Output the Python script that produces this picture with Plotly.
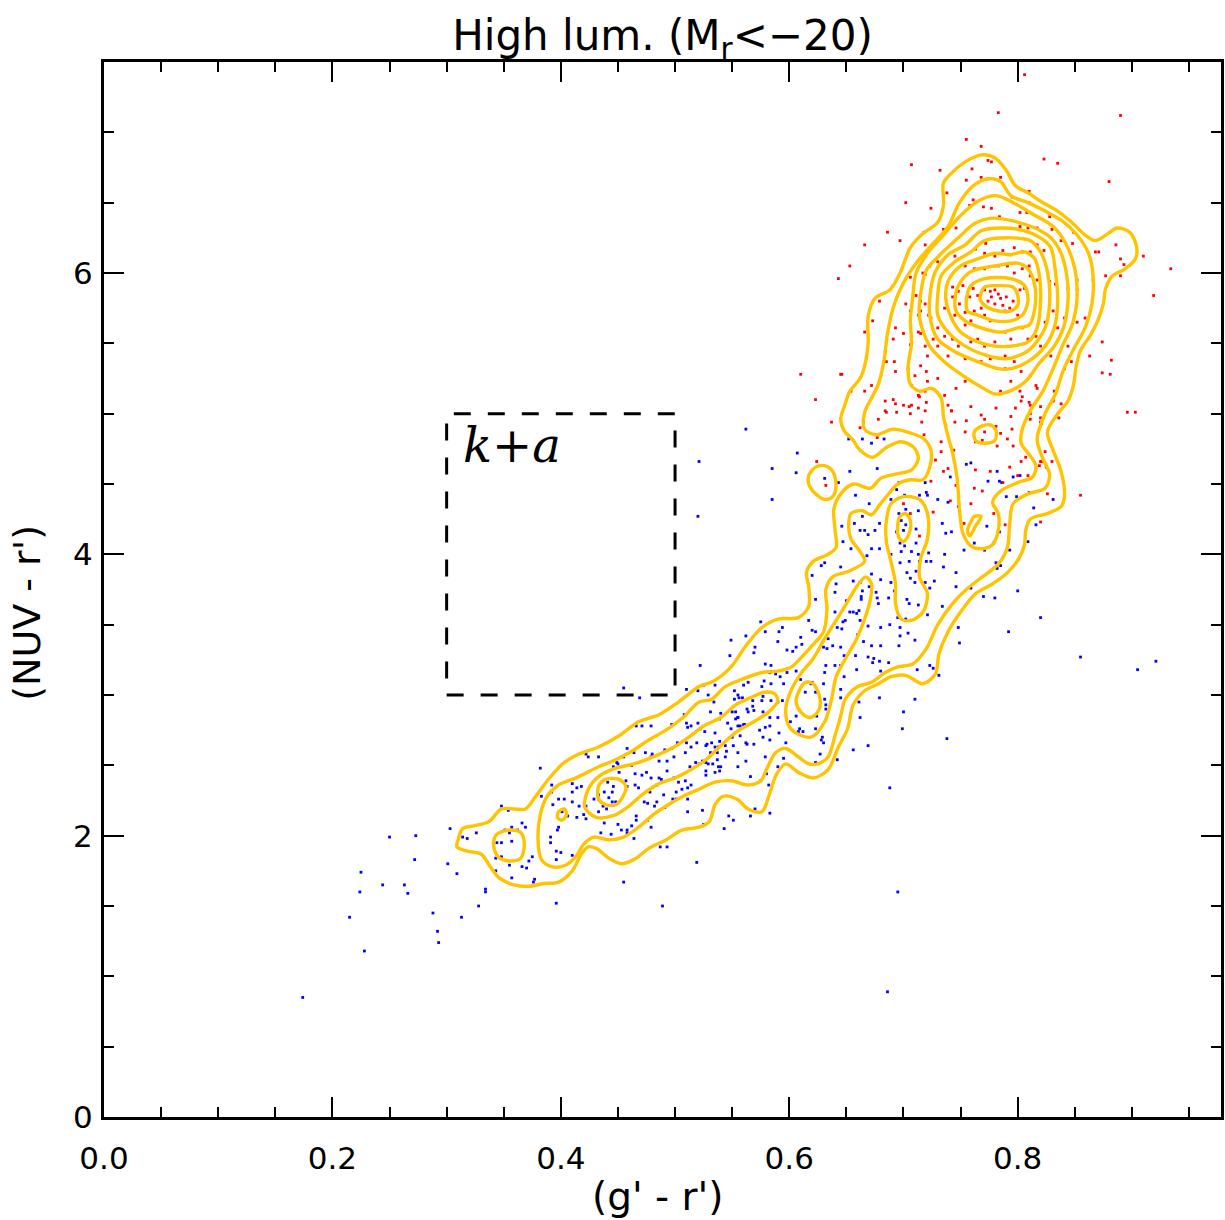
import plotly.graph_objects as go

# ---------------- data ----------------
red_points = [
    (0.806, 7.41), (0.783, 7.14), (0.890, 7.12),
    (0.755, 6.95), (0.768, 6.90), (0.707, 6.77), (0.732, 6.73), (0.774, 6.80), (0.777, 6.79),
    (0.823, 6.81), (0.835, 6.78), (0.880, 6.65), (0.760, 6.74), (0.755, 6.66), (0.768, 6.68),
    (0.785, 6.68), (0.774, 6.67), (0.738, 6.57), (0.761, 6.52), (0.702, 6.50), (0.724, 6.46),
    (0.758, 6.48), (0.770, 6.47), (0.810, 6.58), (0.795, 6.54), (0.810, 6.50), (0.802, 6.43),
    (0.777, 6.46), (0.784, 6.40), (0.828, 6.40), (0.808, 6.43), (0.746, 6.32), (0.735, 6.31),
    (0.718, 6.29), (0.686, 6.29), (0.666, 6.20), (0.653, 6.05), (0.643, 5.96), (0.697, 6.23),
    (0.719, 6.20), (0.802, 6.33), (0.809, 6.32), (0.817, 6.32), (0.830, 6.31), (0.849, 6.29),
    (0.838, 6.23), (0.848, 6.21), (0.868, 6.15), (0.871, 6.15), (0.886, 6.20), (0.890, 6.10),
    (0.893, 6.06), (0.910, 6.12), (0.934, 6.03), (0.877, 5.98), (0.890, 5.98), (0.866, 5.95),
    (0.852, 5.95), (0.852, 5.88), (0.919, 5.84), (0.771, 6.14), (0.780, 6.12), (0.794, 6.13),
    (0.804, 6.15), (0.811, 6.15), (0.772, 6.21), (0.763, 6.17), (0.787, 6.16), (0.797, 6.18),
    (0.817, 6.20), (0.823, 6.16), (0.745, 6.12), (0.723, 6.05), (0.719, 5.99), (0.706, 5.97),
    (0.730, 6.08), (0.754, 6.05), (0.762, 6.03), (0.771, 6.03), (0.783, 6.05), (0.791, 6.05),
    (0.804, 6.03), (0.810, 6.05), (0.797, 6.00), (0.811, 5.98), (0.817, 5.95), (0.828, 5.94),
    (0.833, 5.92), (0.844, 5.89), (0.743, 5.90), (0.748, 5.87), (0.752, 5.91), (0.771, 5.88),
    (0.776, 5.87), (0.780, 5.88), (0.783, 5.85), (0.777, 5.83), (0.785, 5.82), (0.790, 5.83),
    (0.774, 5.80), (0.780, 5.78), (0.787, 5.77), (0.793, 5.75), (0.796, 5.80), (0.802, 5.88),
    (0.806, 5.89), (0.768, 5.75), (0.762, 5.73), (0.754, 5.72), (0.749, 5.78), (0.743, 5.83),
    (0.758, 5.83), (0.765, 5.84), (0.761, 5.89), (0.789, 5.73), (0.800, 5.70), (0.771, 5.70),
    (0.776, 5.66), (0.759, 5.66), (0.754, 5.63), (0.745, 5.70), (0.736, 5.75), (0.724, 5.68),
    (0.713, 5.70), (0.706, 5.73), (0.715, 5.80), (0.711, 5.84), (0.693, 5.61), (0.691, 5.53),
    (0.685, 5.37), (0.684, 5.44), (0.673, 5.66), (0.666, 5.58), (0.679, 5.80), (0.646, 5.28),
    (0.654, 5.16), (0.666, 5.16), (0.672, 5.20), (0.665, 4.94), (0.678, 4.96), (0.684, 5.09),
    (0.694, 5.01), (0.700, 5.06), (0.704, 5.32), (0.710, 5.27), (0.715, 5.34), (0.720, 5.30),
    (0.721, 5.41), (0.713, 5.58), (0.719, 5.48), (0.730, 5.48), (0.736, 5.55), (0.730, 5.61),
    (0.743, 5.53), (0.748, 5.48), (0.739, 5.41), (0.754, 5.39), (0.759, 5.51), (0.765, 5.53),
    (0.771, 5.48), (0.780, 5.51), (0.789, 5.58), (0.794, 5.53), (0.804, 5.61), (0.809, 5.53),
    (0.816, 5.55), (0.820, 5.48), (0.824, 5.65), (0.831, 5.73), (0.835, 5.61), (0.841, 5.68),
    (0.829, 5.41), (0.841, 5.32), (0.847, 5.37), (0.852, 5.65), (0.859, 5.68), (0.844, 5.48),
    (0.768, 5.37), (0.776, 5.39), (0.789, 5.41), (0.789, 5.32), (0.797, 5.37), (0.803, 5.30),
    (0.811, 5.27), (0.794, 5.23), (0.785, 5.16), (0.802, 5.16), (0.804, 5.12), (0.816, 5.20),
    (0.817, 5.18), (0.832, 5.16), (0.831, 5.09), (0.820, 5.05), (0.794, 4.98), (0.811, 4.96),
    (0.820, 4.94), (0.874, 5.51), (0.882, 5.38), (0.874, 5.29), (0.881, 5.28), (0.863, 5.41),
    (0.896, 5.01), (0.903, 5.01), (0.754, 5.23), (0.746, 5.18), (0.736, 5.13), (0.759, 5.05),
    (0.742, 5.02), (0.730, 5.25), (0.719, 5.16), (0.713, 5.13),
    (0.610, 5.28), (0.623, 5.10), (0.637, 4.94), (0.645, 5.28), (0.624, 4.66), (0.662, 4.90),
    (0.677, 4.83), (0.691, 5.10), (0.685, 5.01), (0.693, 5.07), (0.705, 5.05), (0.714, 5.12),
    (0.716, 4.94), (0.718, 4.85), (0.719, 5.02), (0.720, 5.08), (0.692, 5.37), (0.693, 5.30),
    (0.721, 5.23), (0.707, 5.20), (0.700, 5.57), (0.702, 5.78), (0.706, 5.49), (0.715, 5.57),
    (0.726, 5.53), (0.717, 6.00), (0.719, 5.78), (0.715, 5.73), (0.722, 5.70),
    (0.684, 5.02), (0.706, 5.00), (0.707, 5.06), (0.713, 5.04), (0.739, 5.06), (0.742, 5.02),
    (0.737, 4.92), (0.745, 4.94), (0.755, 4.95), (0.754, 4.87), (0.768, 4.99), (0.771, 4.96),
    (0.781, 4.91), (0.785, 4.86), (0.771, 4.87), (0.763, 4.80), (0.769, 4.81), (0.791, 4.82),
    (0.795, 4.89), (0.796, 4.77), (0.782, 4.77), (0.781, 5.04), (0.798, 5.04), (0.803, 5.09),
    (0.811, 5.00), (0.820, 4.97), (0.811, 5.06), (0.831, 5.10), (0.836, 4.97), (0.838, 5.07),
    (0.733, 4.73), (0.728, 4.67), (0.744, 4.74), (0.735, 4.59), (0.739, 4.61), (0.724, 4.52),
    (0.746, 4.49), (0.762, 4.47), (0.769, 4.45), (0.776, 4.59), (0.763, 4.60), (0.741, 4.38),
    (0.759, 4.36), (0.779, 4.29), (0.789, 4.21), (0.753, 4.22), (0.726, 4.30), (0.714, 4.13),
    (0.706, 4.29), (0.700, 4.36), (0.632, 4.49), (0.793, 4.62), (0.800, 4.56), (0.809, 4.56),
    (0.803, 4.66), (0.819, 4.63), (0.821, 4.66), (0.824, 4.73), (0.830, 4.66), (0.825, 4.62),
    (0.821, 4.93), (0.855, 4.42), (0.826, 4.43), (0.810, 4.44), (0.820, 4.23), (0.810, 5.08),
    (0.733, 4.80), (0.807, 4.69), (0.820, 4.66), (0.787, 4.51),
]

blue_points = [
    (0.607, 4.72), (0.585, 4.61), (0.606, 4.58), (0.652, 4.82), (0.664, 4.82), (0.672, 4.79),
    (0.683, 4.82), (0.653, 4.59), (0.677, 4.61), (0.631, 4.54),
    (0.562, 4.89), (0.521, 4.66), (0.520, 4.27), (0.585, 4.39), (0.643, 4.51), (0.755, 4.64),
    (0.759, 4.65), (0.696, 4.51), (0.694, 4.46), (0.719, 4.51), (0.720, 4.44), (0.721, 4.42),
    (0.714, 4.42), (0.741, 4.55), (0.774, 4.52), (0.782, 4.59), (0.786, 4.51), (0.790, 4.41),
    (0.799, 4.41), (0.814, 4.33), (0.831, 4.39), (0.816, 4.21), (0.658, 4.42), (0.689, 4.39),
    (0.670, 4.36), (0.701, 4.42), (0.702, 4.32), (0.713, 4.31), (0.730, 4.39), (0.739, 4.37),
    (0.748, 4.34), (0.664, 4.27), (0.657, 4.22), (0.646, 4.20), (0.662, 4.17), (0.666, 4.17),
    (0.669, 4.14), (0.675, 4.17), (0.679, 4.22), (0.696, 4.29), (0.698, 4.24), (0.702, 4.21),
    (0.700, 4.17), (0.694, 4.16), (0.711, 4.18), (0.734, 4.22), (0.737, 4.15), (0.742, 4.16),
    (0.773, 4.20), (0.784, 4.16), (0.779, 4.08), (0.762, 4.08), (0.771, 4.03), (0.753, 4.03),
    (0.793, 4.03), (0.809, 4.09), (0.647, 4.09), (0.654, 4.04), (0.672, 4.04), (0.679, 4.04),
    (0.697, 4.08), (0.701, 4.06), (0.698, 4.02), (0.707, 4.02), (0.711, 4.08), (0.713, 4.00),
    (0.722, 4.01), (0.736, 4.00), (0.668, 3.99), (0.689, 4.00), (0.697, 3.94), (0.705, 3.95),
    (0.714, 3.95), (0.720, 3.95), (0.724, 3.95), (0.735, 3.91), (0.746, 3.87), (0.781, 3.94),
    (0.782, 3.90), (0.645, 3.91), (0.628, 3.92), (0.631, 3.94), (0.620, 3.85), (0.672, 3.86),
    (0.680, 3.82), (0.689, 3.80), (0.703, 3.87), (0.711, 3.88), (0.706, 3.83), (0.710, 3.80),
    (0.719, 3.80), (0.727, 3.81), (0.723, 3.76), (0.641, 3.79), (0.662, 3.80), (0.670, 3.77),
    (0.656, 3.81), (0.664, 3.74), (0.692, 3.74), (0.676, 3.73), (0.640, 3.73), (0.650, 3.67),
    (0.663, 3.70), (0.663, 3.68), (0.677, 3.69), (0.678, 3.65), (0.687, 3.69), (0.703, 3.68),
    (0.705, 3.65), (0.713, 3.64), (0.721, 3.57), (0.734, 3.63), (0.623, 3.68), (0.702, 3.54),
    (0.695, 3.55), (0.688, 3.50), (0.680, 3.48), (0.697, 3.48), (0.697, 3.42), (0.696, 3.35),
    (0.710, 3.39), (0.704, 3.44), (0.672, 3.35), (0.680, 3.35), (0.662, 3.53), (0.669, 3.49),
    (0.661, 3.60), (0.659, 3.58), (0.656, 3.59), (0.649, 3.53), (0.653, 3.59), (0.647, 3.52),
    (0.646, 3.47), (0.640, 3.59), (0.642, 3.48), (0.634, 3.40), (0.630, 3.34), (0.633, 3.33),
    (0.623, 3.45), (0.620, 3.46), (0.617, 3.53), (0.610, 3.41), (0.611, 3.36), (0.606, 3.34),
    (0.598, 3.32), (0.603, 3.31), (0.598, 3.16), (0.592, 3.13), (0.588, 3.15), (0.590, 3.38),
    (0.594, 3.48), (0.591, 3.45), (0.579, 3.45), (0.575, 3.52), (0.570, 3.34), (0.569, 3.30),
    (0.562, 3.42), (0.549, 3.39), (0.548, 3.28), (0.579, 3.22), (0.584, 3.21), (0.583, 3.16),
    (0.595, 3.08), (0.584, 3.08), (0.578, 3.10), (0.576, 3.06), (0.577, 2.99), (0.564, 3.09),
    (0.560, 3.07), (0.552, 3.03), (0.555, 3.00), (0.529, 3.00), (0.525, 3.07), (0.522, 3.21),
    (0.606, 3.17), (0.610, 3.11), (0.614, 3.02), (0.623, 3.02), (0.619, 3.08), (0.620, 3.09),
    (0.631, 3.16), (0.630, 3.08), (0.632, 3.21), (0.638, 3.35), (0.640, 3.21), (0.645, 3.34),
    (0.645, 3.21), (0.648, 3.28), (0.658, 3.28), (0.659, 3.18), (0.665, 3.38), (0.660, 3.43),
    (0.669, 3.27), (0.674, 3.26), (0.679, 3.24), (0.673, 3.23), (0.680, 3.17), (0.687, 3.23),
    (0.679, 2.98), (0.712, 3.18), (0.723, 3.21), (0.726, 3.19), (0.731, 3.14), (0.749, 3.37),
    (0.748, 3.48), (0.770, 3.70), (0.780, 3.69), (0.792, 3.45), (0.820, 3.55), (0.855, 3.27),
    (0.759, 3.76), (0.746, 3.77), (0.796, 4.55), (0.802, 4.56), (0.784, 4.52), (0.785, 3.92),
    (0.800, 3.74), (0.921, 3.24), (0.905, 3.18),
    (0.552, 2.97), (0.556, 2.98), (0.559, 2.98), (0.568, 2.96), (0.576, 2.96), (0.584, 2.96),
    (0.590, 2.95), (0.594, 2.96), (0.534, 2.95), (0.531, 2.88), (0.540, 2.87), (0.539, 2.83),
    (0.550, 2.88), (0.553, 2.88), (0.553, 2.83), (0.555, 2.84), (0.564, 2.88), (0.569, 2.89),
    (0.568, 2.92), (0.563, 2.90), (0.583, 2.84), (0.577, 2.88), (0.546, 2.80), (0.555, 2.78),
    (0.560, 2.79), (0.522, 2.76), (0.526, 2.74), (0.535, 2.73), (0.528, 2.65), (0.535, 2.63),
    (0.544, 2.64), (0.539, 2.67), (0.550, 2.70), (0.557, 2.71), (0.563, 2.65), (0.569, 2.65),
    (0.531, 2.59), (0.555, 2.59), (0.524, 2.53), (0.521, 2.51), (0.527, 2.52), (0.533, 2.51),
    (0.538, 2.49), (0.539, 2.46), (0.527, 2.43), (0.566, 2.42), (0.555, 2.49), (0.562, 2.53),
    (0.579, 2.56), (0.582, 2.36), (0.580, 2.44), (0.575, 2.39), (0.590, 2.49), (0.595, 2.55),
    (0.597, 2.66), (0.591, 2.73), (0.583, 2.68), (0.577, 2.70), (0.574, 2.75), (0.579, 2.77),
    (0.583, 2.78), (0.590, 2.84), (0.601, 2.81), (0.606, 2.85), (0.608, 2.74), (0.612, 2.74),
    (0.609, 2.76), (0.623, 2.76), (0.624, 2.85), (0.631, 2.97), (0.632, 2.93), (0.632, 2.90),
    (0.629, 2.70), (0.630, 2.66), (0.628, 2.68), (0.627, 2.58), (0.623, 2.52), (0.642, 2.54),
    (0.656, 2.61), (0.669, 2.64), (0.662, 2.84), (0.661, 2.95), (0.699, 2.76), (0.700, 2.88),
    (0.710, 2.97), (0.738, 2.69), (0.688, 2.34), (0.695, 1.60), (0.686, 0.89), (0.566, 2.14),
    (0.551, 2.11), (0.547, 2.14), (0.543, 2.05), (0.583, 2.16), (0.570, 2.19), (0.524, 2.18),
    (0.525, 2.08), (0.645, 2.98), (0.645, 3.04), (0.648, 3.13),
    (0.455, 3.05), (0.469, 2.98), (0.510, 3.04), (0.520, 3.03), (0.466, 2.78), (0.471, 2.78),
    (0.479, 2.78), (0.497, 2.79), (0.508, 2.86), (0.510, 2.80), (0.514, 2.78), (0.520, 2.80),
    (0.535, 3.07), (0.511, 2.77), (0.491, 2.61), (0.497, 2.62), (0.502, 2.66), (0.510, 2.66),
    (0.514, 2.63), (0.519, 2.66), (0.527, 2.64), (0.532, 2.66), (0.538, 2.63), (0.537, 2.59),
    (0.545, 2.60), (0.551, 2.64), (0.549, 2.76), (0.557, 2.78), (0.555, 2.84), (0.561, 2.79),
    (0.562, 2.66), (0.509, 2.59), (0.518, 2.52), (0.529, 2.51), (0.537, 2.54), (0.540, 2.49),
    (0.544, 2.56), (0.513, 2.49), (0.527, 2.46), (0.535, 2.45), (0.464, 2.59), (0.458, 2.62),
    (0.474, 2.59), (0.480, 2.58), (0.455, 2.56), (0.479, 2.56), (0.486, 2.53), (0.493, 2.53),
    (0.499, 2.56), (0.493, 2.46), (0.486, 2.41), (0.499, 2.41), (0.503, 2.38), (0.509, 2.39),
    (0.514, 2.36), (0.506, 2.33), (0.511, 2.34), (0.479, 2.41), (0.488, 2.40), (0.484, 2.36),
    (0.490, 2.29), (0.501, 2.26), (0.511, 2.26), (0.465, 2.44), (0.471, 2.43), (0.475, 2.45),
    (0.462, 2.50), (0.478, 2.31), (0.473, 2.24), (0.484, 2.24), (0.491, 2.20), (0.498, 2.26),
    (0.501, 2.31), (0.451, 2.45), (0.446, 2.49), (0.439, 2.45), (0.433, 2.56), (0.424, 2.56),
    (0.422, 2.58), (0.450, 2.51), (0.449, 2.52), (0.457, 2.39), (0.458, 2.35), (0.465, 2.36),
    (0.468, 2.34), (0.441, 2.38), (0.446, 2.35), (0.438, 2.31), (0.445, 2.31), (0.442, 2.27),
    (0.448, 2.24), (0.445, 2.24), (0.433, 2.26), (0.429, 2.26), (0.437, 2.21), (0.440, 2.19),
    (0.450, 2.08), (0.453, 2.04), (0.458, 2.04), (0.462, 2.07), (0.466, 2.11), (0.466, 2.14),
    (0.458, 2.02), (0.464, 1.98), (0.476, 2.23), (0.482, 2.21), (0.476, 2.11), (0.479, 2.06),
    (0.493, 1.92), (0.487, 1.92), (0.519, 1.81), (0.455, 1.67), (0.489, 1.50), (0.511, 2.17),
    (0.422, 2.21), (0.414, 2.34), (0.418, 2.35), (0.410, 2.37), (0.392, 2.31), (0.398, 2.26),
    (0.403, 2.26), (0.410, 2.24), (0.416, 2.21), (0.420, 2.15), (0.414, 2.13), (0.422, 2.12),
    (0.401, 2.17), (0.406, 2.14), (0.397, 2.04), (0.398, 2.06), (0.391, 1.99), (0.391, 1.95),
    (0.396, 1.89), (0.396, 1.83), (0.400, 1.88), (0.410, 1.86), (0.433, 2.17), (0.438, 2.09),
    (0.435, 2.02), (0.444, 2.01), (0.410, 2.31), (0.433, 2.29), (0.382, 2.48), (0.392, 2.36),
    (0.393, 2.22), (0.383, 2.28), (0.348, 2.21), (0.354, 2.18), (0.366, 2.09), (0.369, 2.06),
    (0.357, 2.06), (0.362, 2.04), (0.351, 2.04), (0.355, 2.02), (0.344, 1.95), (0.348, 1.95),
    (0.357, 1.96), (0.326, 2.02), (0.318, 1.98), (0.314, 1.99), (0.303, 2.05), (0.343, 1.84),
    (0.348, 1.85), (0.355, 1.79), (0.366, 1.78), (0.372, 1.82), (0.375, 1.85), (0.370, 1.77),
    (0.343, 1.75), (0.357, 1.70), (0.377, 1.69), (0.376, 1.67), (0.334, 1.62), (0.334, 1.60),
    (0.301, 1.80), (0.309, 1.73), (0.328, 1.50), (0.288, 1.45), (0.313, 1.42), (0.292, 1.32),
    (0.293, 1.24), (0.396, 1.52), (0.273, 2.00), (0.250, 1.99), (0.272, 1.83), (0.263, 1.65),
    (0.266, 1.59), (0.244, 1.65), (0.225, 1.74), (0.224, 1.60), (0.215, 1.42), (0.174, 0.85),
    (0.228, 1.18),
]

# density contour lines (data units)
contour_outer = [
    (0.310, 1.97), (0.314, 2.05), (0.324, 2.07), (0.337, 2.10), (0.348, 2.19), (0.359, 2.19),
    (0.369, 2.19), (0.378, 2.28), (0.390, 2.41), (0.403, 2.52), (0.416, 2.58), (0.433, 2.63),
    (0.451, 2.71), (0.468, 2.81), (0.486, 2.86), (0.503, 2.95), (0.521, 3.06), (0.534, 3.10),
    (0.549, 3.20), (0.562, 3.35), (0.576, 3.48), (0.590, 3.54), (0.608, 3.55), (0.617, 3.63),
    (0.617, 3.77), (0.615, 3.87), (0.621, 3.95), (0.634, 4.00), (0.641, 4.05), (0.640, 4.18),
    (0.639, 4.32), (0.645, 4.43), (0.656, 4.50), (0.671, 4.47), (0.680, 4.54), (0.693, 4.57),
    (0.707, 4.60), (0.713, 4.68), (0.709, 4.76), (0.698, 4.80), (0.685, 4.76), (0.673, 4.69),
    (0.662, 4.74), (0.656, 4.81), (0.648, 4.88), (0.645, 4.96), (0.649, 5.07), (0.653, 5.16),
    (0.662, 5.25), (0.666, 5.34), (0.669, 5.50), (0.669, 5.69), (0.675, 5.82), (0.688, 5.88),
    (0.697, 6.00), (0.706, 6.18), (0.717, 6.28), (0.730, 6.36), (0.735, 6.48), (0.735, 6.64),
    (0.742, 6.71), (0.754, 6.79), (0.768, 6.84), (0.780, 6.82), (0.790, 6.73), (0.798, 6.62),
    (0.809, 6.57), (0.820, 6.51), (0.833, 6.45), (0.846, 6.37), (0.859, 6.27), (0.868, 6.23),
    (0.879, 6.28), (0.887, 6.32), (0.898, 6.29), (0.904, 6.19), (0.903, 6.10), (0.894, 6.03),
    (0.883, 5.98), (0.877, 5.89), (0.875, 5.78), (0.870, 5.66), (0.863, 5.55), (0.855, 5.45),
    (0.851, 5.33), (0.849, 5.21), (0.844, 5.09), (0.835, 5.00), (0.826, 4.87), (0.831, 4.74),
    (0.838, 4.59), (0.841, 4.42), (0.838, 4.34), (0.826, 4.29), (0.811, 4.25), (0.807, 4.17),
    (0.806, 4.07), (0.801, 3.97), (0.791, 3.87), (0.778, 3.79), (0.763, 3.72), (0.750, 3.59),
    (0.739, 3.45), (0.731, 3.29), (0.728, 3.15), (0.717, 3.08), (0.702, 3.14), (0.689, 3.13),
    (0.678, 3.08), (0.666, 3.03), (0.656, 2.93), (0.651, 2.76), (0.643, 2.63), (0.634, 2.47),
    (0.621, 2.41), (0.608, 2.45), (0.597, 2.51), (0.589, 2.44), (0.582, 2.28), (0.576, 2.17),
    (0.564, 2.19), (0.554, 2.26), (0.542, 2.28), (0.535, 2.22), (0.530, 2.10), (0.521, 2.06),
    (0.506, 2.04), (0.492, 1.97), (0.477, 1.91), (0.466, 1.84), (0.453, 1.80), (0.442, 1.84),
    (0.431, 1.91), (0.424, 1.92), (0.418, 1.87), (0.410, 1.75), (0.398, 1.67), (0.385, 1.66),
    (0.372, 1.64), (0.359, 1.65), (0.346, 1.70), (0.339, 1.77), (0.330, 1.87), (0.318, 1.89),
    (0.309, 1.92),
]
contour_second = [
    (0.380, 1.97), (0.382, 2.15), (0.388, 2.28), (0.398, 2.36), (0.413, 2.41), (0.433, 2.49),
    (0.448, 2.54), (0.462, 2.60), (0.477, 2.68), (0.492, 2.75), (0.507, 2.84), (0.521, 2.95),
    (0.532, 2.97), (0.544, 3.06), (0.558, 3.11), (0.576, 3.16), (0.590, 3.17), (0.602, 3.20),
    (0.612, 3.28), (0.621, 3.36), (0.630, 3.45), (0.633, 3.61), (0.632, 3.75), (0.638, 3.84),
    (0.652, 3.88), (0.666, 3.95), (0.662, 4.02), (0.654, 4.11), (0.652, 4.20), (0.654, 4.29),
    (0.664, 4.31), (0.672, 4.28), (0.679, 4.35), (0.686, 4.42), (0.695, 4.50), (0.706, 4.53),
    (0.717, 4.53), (0.723, 4.62), (0.724, 4.74), (0.718, 4.82), (0.707, 4.86), (0.691, 4.89),
    (0.676, 4.85), (0.666, 4.89), (0.666, 5.01), (0.672, 5.11), (0.678, 5.21), (0.683, 5.38),
    (0.686, 5.57), (0.692, 5.78), (0.700, 5.93), (0.713, 6.09), (0.726, 6.21), (0.739, 6.33),
    (0.749, 6.50), (0.761, 6.62), (0.774, 6.67), (0.785, 6.65), (0.794, 6.55), (0.809, 6.50),
    (0.824, 6.44), (0.839, 6.37), (0.852, 6.27), (0.862, 6.14), (0.866, 5.98), (0.865, 5.78),
    (0.859, 5.61), (0.849, 5.46), (0.840, 5.31), (0.833, 5.14), (0.824, 5.00), (0.817, 4.82),
    (0.822, 4.68), (0.828, 4.57), (0.824, 4.47), (0.809, 4.43), (0.796, 4.36), (0.793, 4.22),
    (0.791, 4.05), (0.783, 3.93), (0.769, 3.84), (0.755, 3.75), (0.743, 3.65), (0.730, 3.50),
    (0.720, 3.33), (0.708, 3.22), (0.695, 3.20), (0.684, 3.16), (0.672, 3.09), (0.660, 3.06),
    (0.649, 2.97), (0.645, 2.85), (0.640, 2.71), (0.634, 2.56), (0.625, 2.51), (0.617, 2.51),
    (0.608, 2.56), (0.597, 2.62), (0.588, 2.59), (0.580, 2.47), (0.575, 2.39), (0.564, 2.36),
    (0.549, 2.39), (0.535, 2.38), (0.521, 2.33), (0.507, 2.28), (0.494, 2.22), (0.481, 2.15),
    (0.468, 2.06), (0.455, 1.99), (0.442, 1.97), (0.429, 1.99), (0.420, 1.94), (0.414, 1.86),
    (0.404, 1.79), (0.392, 1.78), (0.383, 1.83),
]
contour_red_3 = [
    (0.708, 5.82), (0.711, 6.00), (0.721, 6.14), (0.735, 6.27), (0.749, 6.40), (0.765, 6.51),
    (0.781, 6.55), (0.796, 6.50), (0.813, 6.42), (0.831, 6.33), (0.842, 6.21), (0.850, 6.03),
    (0.852, 5.83), (0.848, 5.64), (0.839, 5.48), (0.831, 5.32), (0.822, 5.16), (0.811, 5.02),
    (0.804, 4.89), (0.803, 4.79), (0.809, 4.72), (0.816, 4.63), (0.813, 4.55), (0.800, 4.51),
    (0.785, 4.45), (0.778, 4.37), (0.783, 4.29), (0.783, 4.17), (0.778, 4.07), (0.769, 4.04),
    (0.759, 4.06), (0.752, 4.15), (0.749, 4.32), (0.747, 4.54), (0.743, 4.72), (0.739, 4.84),
    (0.735, 4.98), (0.733, 5.11), (0.725, 5.18), (0.714, 5.16), (0.706, 5.21), (0.704, 5.33),
    (0.707, 5.50), (0.706, 5.66),
]
contour_red_4 = [
    (0.714, 5.68), (0.715, 5.85), (0.720, 6.02), (0.732, 6.13), (0.748, 6.25), (0.762, 6.35),
    (0.778, 6.39), (0.796, 6.37), (0.815, 6.32), (0.829, 6.25), (0.838, 6.14), (0.843, 5.98),
    (0.844, 5.80), (0.840, 5.61), (0.832, 5.48), (0.819, 5.36), (0.807, 5.23), (0.793, 5.16),
    (0.780, 5.14), (0.768, 5.19), (0.754, 5.26), (0.737, 5.36), (0.723, 5.48),
]
contour_red_5 = [
    (0.723, 5.70), (0.724, 5.89), (0.728, 6.01), (0.739, 6.13), (0.754, 6.20), (0.768, 6.30),
    (0.785, 6.32), (0.806, 6.30), (0.820, 6.25), (0.829, 6.18), (0.833, 6.01), (0.835, 5.80),
    (0.832, 5.61), (0.824, 5.48), (0.809, 5.37), (0.794, 5.32), (0.783, 5.32), (0.765, 5.37),
    (0.745, 5.44), (0.730, 5.53),
]
contour_red_6 = [
    (0.730, 5.70), (0.730, 5.84), (0.733, 5.98), (0.745, 6.08), (0.759, 6.15), (0.771, 6.23),
    (0.794, 6.25), (0.811, 6.23), (0.820, 6.15), (0.826, 6.01), (0.828, 5.80), (0.824, 5.61),
    (0.811, 5.46), (0.800, 5.41), (0.789, 5.39), (0.774, 5.41), (0.754, 5.48), (0.739, 5.58),
]
contour_red_7 = [
    (0.742, 5.68), (0.737, 5.82), (0.739, 5.94), (0.750, 6.05), (0.765, 6.10), (0.780, 6.14),
    (0.794, 6.13), (0.806, 6.15), (0.815, 6.10), (0.819, 5.98), (0.820, 5.80), (0.817, 5.61),
    (0.809, 5.51), (0.794, 5.48), (0.780, 5.48), (0.765, 5.51), (0.750, 5.58),
]
contour_red_8 = [
    (0.746, 5.73), (0.745, 5.80), (0.748, 5.91), (0.759, 6.01), (0.780, 6.05), (0.800, 6.07),
    (0.809, 6.03), (0.815, 5.91), (0.815, 5.75), (0.810, 5.63), (0.800, 5.61), (0.785, 5.58),
    (0.768, 5.61), (0.754, 5.66),
]
contour_red_9 = [
    (0.756, 5.73), (0.755, 5.80), (0.759, 5.91), (0.771, 5.96), (0.794, 5.96), (0.806, 5.91),
    (0.809, 5.80), (0.804, 5.70), (0.794, 5.66), (0.780, 5.66), (0.765, 5.70),
]
contour_red_10 = [
    (0.767, 5.82), (0.771, 5.90), (0.783, 5.91), (0.796, 5.90), (0.800, 5.84), (0.800, 5.77),
    (0.794, 5.73), (0.783, 5.73), (0.771, 5.77),
]
contour_band_a = [
    (0.421, 2.20), (0.424, 2.33), (0.433, 2.42), (0.448, 2.48), (0.464, 2.51), (0.481, 2.56),
    (0.499, 2.63), (0.512, 2.70), (0.525, 2.78), (0.540, 2.84), (0.553, 2.93), (0.566, 2.98),
    (0.578, 3.02), (0.587, 3.01), (0.590, 2.96), (0.582, 2.88), (0.569, 2.81), (0.554, 2.74),
    (0.540, 2.64), (0.527, 2.54), (0.514, 2.47), (0.500, 2.41), (0.486, 2.37), (0.471, 2.29),
    (0.458, 2.20), (0.445, 2.14), (0.431, 2.13),
]
contour_band_b = [
    (0.604, 2.74), (0.619, 2.70), (0.631, 2.81), (0.637, 2.97), (0.641, 3.13), (0.650, 3.27),
    (0.659, 3.40), (0.666, 3.54), (0.671, 3.68), (0.672, 3.79), (0.667, 3.84), (0.659, 3.77),
    (0.650, 3.65), (0.641, 3.53), (0.631, 3.40), (0.621, 3.26), (0.610, 3.15), (0.602, 3.04),
    (0.597, 2.91), (0.599, 2.79),
]
contour_band_c = [
    (0.689, 4.36), (0.700, 4.41), (0.714, 4.39), (0.721, 4.29), (0.721, 4.11), (0.715, 3.97),
    (0.714, 3.84), (0.721, 3.72), (0.717, 3.59), (0.707, 3.53), (0.698, 3.54), (0.693, 3.65),
    (0.693, 3.79), (0.689, 3.95), (0.685, 4.09), (0.685, 4.24),
]
contour_islands = [
    [(0.697, 4.27), (0.702, 4.29), (0.706, 4.24), (0.705, 4.15), (0.700, 4.09), (0.696, 4.12), (0.695, 4.21)],
    [(0.617, 4.56), (0.623, 4.62), (0.631, 4.63), (0.638, 4.59), (0.641, 4.49), (0.638, 4.41), (0.631, 4.39), (0.623, 4.43), (0.617, 4.50)],
    [(0.762, 4.87), (0.768, 4.91), (0.776, 4.92), (0.781, 4.88), (0.780, 4.81), (0.771, 4.79), (0.763, 4.81)],
    [(0.762, 4.27), (0.768, 4.27), (0.763, 4.20), (0.758, 4.13), (0.756, 4.17), (0.759, 4.23)],
    [(0.341, 1.94), (0.344, 2.01), (0.355, 2.04), (0.365, 2.02), (0.368, 1.94), (0.365, 1.84), (0.355, 1.82), (0.345, 1.85)],
    [(0.398, 2.17), (0.403, 2.19), (0.405, 2.15), (0.401, 2.11), (0.397, 2.13)],
    [(0.433, 2.35), (0.439, 2.40), (0.451, 2.40), (0.457, 2.35), (0.453, 2.26), (0.448, 2.22), (0.439, 2.22), (0.433, 2.26)],
    [(0.608, 3.02), (0.614, 3.09), (0.621, 3.08), (0.627, 2.97), (0.625, 2.88), (0.618, 2.84), (0.610, 2.88), (0.606, 2.95)],
]

# k+a selection box and label
box_x = [0.30, 0.50]
box_y = [3.0, 5.0]
box_label = "<i>k</i>+<i>a</i>"

title_text = "High lum. (M<sub>r</sub><\u221220)"
x_title = "(g' - r')"
y_title = "(NUV - r')"

x_range = [0.0, 0.978]
y_range = [0.0, 7.5]

gold = "#FFC300"
fig = go.Figure()
fig.add_trace(go.Scatter(
    x=[p[0] for p in blue_points], y=[p[1] for p in blue_points], mode="markers",
    marker=dict(color="#0000FF", size=2.8, symbol="square", line=dict(width=0)),
))
fig.add_trace(go.Scatter(
    x=[p[0] for p in red_points], y=[p[1] for p in red_points], mode="markers",
    marker=dict(color="#FF0000", size=2.8, symbol="square", line=dict(width=0)),
))

all_contours = [contour_outer, contour_second, contour_red_3, contour_red_4, contour_red_5,
                contour_red_6, contour_red_7, contour_red_8, contour_red_9, contour_red_10,
                contour_band_a, contour_band_b, contour_band_c] + contour_islands
for loop in all_contours:
    closed = loop + [loop[0]]
    fig.add_trace(go.Scatter(
        x=[p[0] for p in closed], y=[p[1] for p in closed], mode="lines",
        line=dict(color=gold, width=3.4, shape="spline", smoothing=0.9),
        hoverinfo="skip",
    ))

fig.add_shape(type="rect", x0=box_x[0], x1=box_x[1], y0=box_y[0], y1=box_y[1],
              line=dict(color="black", width=3, dash="17px,17px"))
fig.add_annotation(x=box_x[0] + 0.013, y=box_y[1] - 0.22, text=box_label, showarrow=False,
                   xanchor="left", yanchor="middle",
                   font=dict(family="DejaVu Serif, Liberation Serif, serif", size=48, color="black"))

font_main = "DejaVu Sans, Liberation Sans, Arial, sans-serif"
axis_common = dict(
    showline=True, linewidth=3, linecolor="black", mirror="allticks",
    ticks="inside", ticklen=20, tickwidth=2, tickcolor="black",
    showgrid=False, zeroline=False,
    tickfont=dict(family=font_main, size=31, color="black"),
)
fig.update_xaxes(range=x_range, tick0=0, dtick=0.2, tickformat=".1f",
                 minor=dict(dtick=0.05, ticks="inside", ticklen=10, tickwidth=2, tickcolor="black"),
                 ticklabelstandoff=12, **axis_common)
fig.update_yaxes(range=y_range, tick0=0, dtick=2,
                 minor=dict(dtick=0.5, ticks="inside", ticklen=10, tickwidth=2, tickcolor="black"),
                 ticklabelstandoff=2, **axis_common)

fig.add_annotation(xref="paper", yref="paper", x=0.496, y=-0.0758, text=x_title, showarrow=False,
                   xanchor="center", yanchor="middle", font=dict(family=font_main, size=39, color="black"))
fig.add_annotation(xref="paper", yref="paper", x=-0.0688, y=0.478, text=y_title, showarrow=False,
                   textangle=-90, xanchor="center", yanchor="middle",
                   font=dict(family=font_main, size=38, color="black"))

fig.update_layout(
    width=1225, height=1220,
    margin=dict(l=104, r=1, t=62, b=103),
    plot_bgcolor="white", paper_bgcolor="white", showlegend=False,
    title=dict(text=title_text, x=0.5, xref="paper", y=1 - 35 / 1220, yref="container",
               xanchor="center", yanchor="middle",
               font=dict(family=font_main, size=42, color="black")),
)
fig.write_html("out.html", config={"displayModeBar": False},
               post_script="document.body.style.margin='0';document.body.style.overflow='hidden';")
